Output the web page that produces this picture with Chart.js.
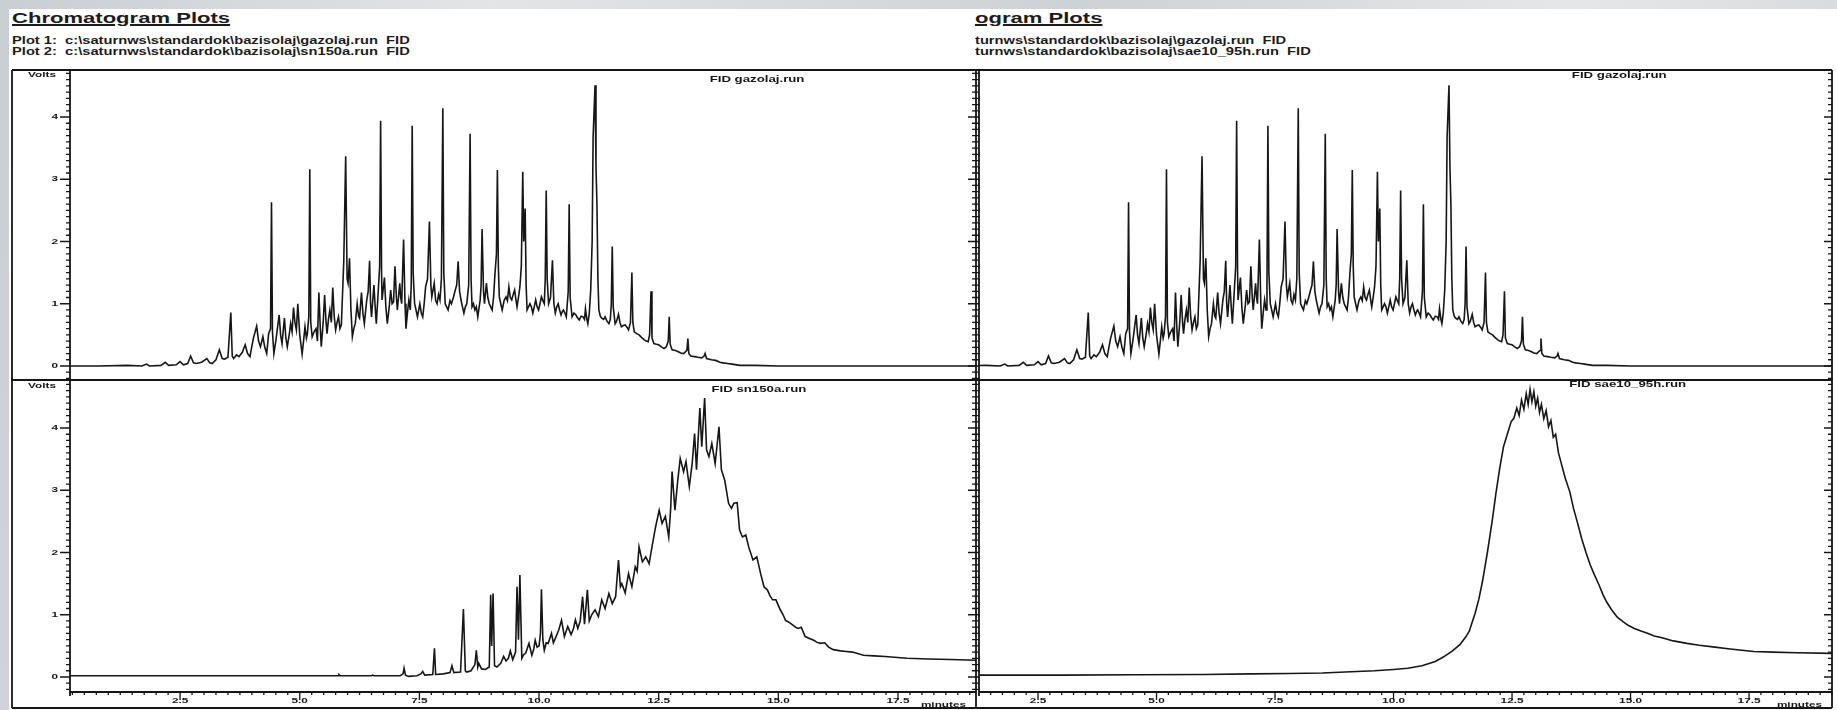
<!DOCTYPE html>
<html>
<head>
<meta charset="utf-8">
<title>Chromatogram Plots</title>
<script src="https://cdn.jsdelivr.net/npm/chart.js@4.4.1/dist/chart.umd.min.js"></script>
<style>
  html, body { margin: 0; padding: 0; }
  body {
    width: 1837px; height: 710px; position: relative; overflow: hidden;
    background: linear-gradient(100deg, #c9ced3 0%, #e3e5e7 25%, #cdd2d6 55%, #e6e7e8 80%, #d3d7da 100%);
    font-family: "Liberation Sans", Arial, sans-serif; color: #1c1c1c;
  }
  .page { position: absolute; left: 9px; top: 9px; width: 1828px; height: 701px; background: #fff; }
  .txt { position: absolute; white-space: pre; font-weight: bold; transform: scaleX(1.47); transform-origin: 0 50%; }
  .title { font-size: 15px; line-height: 15px; text-decoration: underline; text-decoration-thickness: 1.5px; text-underline-offset: 1px; }
  .path { font-size: 10px; line-height: 11px; }
  canvas { position: absolute; }
</style>
</head>
<body>
<div class="page"></div>

<div class="txt title" style="left:12px; top:10px;">Chromatogram Plots</div>
<div class="txt path" style="left:12px; top:35px;">Plot 1:  c:\saturnws\standardok\bazisolaj\gazolaj.run  FID
Plot 2:  c:\saturnws\standardok\bazisolaj\sn150a.run  FID</div>

<div class="txt title" style="left:975px; top:10px;">ogram Plots</div>
<div class="txt path" style="left:975px; top:35px;">turnws\standardok\bazisolaj\gazolaj.run  FID
turnws\standardok\bazisolaj\sae10_95h.run  FID</div>

<canvas id="leftTop" width="967" height="313" style="left:11px; top:69px;"></canvas>
<canvas id="leftBottom" width="967" height="332" style="left:11px; top:378px;"></canvas>
<canvas id="rightTop" width="862" height="313" style="left:975px; top:69px;"></canvas>
<canvas id="rightBottom" width="862" height="332" style="left:975px; top:378px;"></canvas>

<script>
// retention time (min), detector signal (V)
const gazolajTrace = [
  [0.20,0.00],[0.80,0.00],[1.40,0.01],[1.70,0.00],[1.80,0.03],[1.86,0.00],[2.10,0.01],[2.19,0.06],[2.26,0.01],[2.42,0.02],
  [2.50,0.07],[2.57,0.02],[2.66,0.04],[2.72,0.16],[2.78,0.05],[2.84,0.04],[2.95,0.06],[3.06,0.12],[3.12,0.05],[3.17,0.04],
  [3.25,0.10],[3.32,0.26],[3.38,0.12],[3.43,0.11],[3.50,0.14],[3.56,0.86],[3.59,0.16],[3.62,0.12],[3.68,0.18],[3.73,0.15],
  [3.80,0.22],[3.86,0.34],[3.91,0.20],[3.96,0.15],[4.03,0.44],[4.10,0.64],[4.14,0.40],[4.18,0.31],[4.23,0.47],[4.27,0.30],
  [4.31,0.20],[4.35,0.52],[4.39,0.60],[4.41,2.63],[4.43,0.55],[4.46,0.20],[4.50,0.40],[4.53,0.58],[4.57,0.82],[4.60,0.50],
  [4.63,0.36],[4.68,0.77],[4.71,0.45],[4.74,0.31],[4.78,0.50],[4.81,0.68],[4.84,0.55],[4.87,0.94],[4.90,0.70],[4.93,0.58],
  [4.96,1.00],[5.00,0.50],[5.05,0.19],[5.08,0.40],[5.11,0.63],[5.14,0.45],[5.16,0.52],[5.19,0.80],[5.21,3.16],[5.23,0.70],
  [5.26,0.47],[5.30,0.55],[5.34,0.60],[5.37,0.40],[5.40,1.18],[5.43,0.60],[5.45,0.31],[5.49,0.70],[5.52,1.14],[5.55,0.70],
  [5.57,0.52],[5.60,0.75],[5.63,0.90],[5.66,0.70],[5.69,1.26],[5.72,0.80],[5.75,0.58],[5.78,0.70],[5.81,0.79],[5.84,0.60],
  [5.87,0.66],[5.92,1.68],[5.96,3.37],[5.99,1.40],[6.01,1.33],[6.04,1.73],[6.07,0.90],[6.10,0.47],[6.13,0.60],[6.16,0.68],
  [6.20,1.00],[6.23,0.80],[6.25,0.77],[6.29,1.18],[6.32,0.85],[6.35,0.68],[6.40,1.06],[6.43,1.20],[6.46,1.69],[6.48,1.00],
  [6.50,0.79],[6.55,1.30],[6.58,0.90],[6.60,0.68],[6.65,1.33],[6.67,1.60],[6.69,3.94],[6.71,1.50],[6.72,1.06],[6.77,1.42],
  [6.80,0.95],[6.83,0.68],[6.87,0.95],[6.90,1.22],[6.93,1.00],[6.96,1.03],[6.99,1.60],[7.02,1.10],[7.04,0.90],[7.09,1.33],
  [7.11,1.10],[7.13,1.00],[7.17,2.03],[7.20,1.00],[7.22,0.60],[7.25,0.85],[7.28,1.06],[7.31,0.90],[7.33,1.30],[7.35,3.86],
  [7.37,1.50],[7.40,1.00],[7.43,0.90],[7.46,0.79],[7.51,1.00],[7.54,0.85],[7.57,0.79],[7.60,1.00],[7.63,1.27],[7.67,1.40],
  [7.71,2.32],[7.74,1.30],[7.76,1.11],[7.81,1.33],[7.84,1.05],[7.87,1.00],[7.90,1.15],[7.93,1.06],[7.96,1.40],[7.99,4.14],
  [8.01,1.50],[8.04,1.00],[8.07,0.95],[8.10,0.90],[8.14,1.05],[8.17,1.00],[8.21,1.10],[8.25,1.22],[8.28,1.30],[8.31,1.68],
  [8.34,1.20],[8.37,1.06],[8.40,0.95],[8.43,0.85],[8.46,0.95],[8.49,1.00],[8.53,1.30],[8.56,3.73],[8.58,1.40],[8.60,0.95],
  [8.63,1.00],[8.66,0.90],[8.69,0.95],[8.72,0.79],[8.77,1.06],[8.79,1.30],[8.81,2.20],[8.84,1.20],[8.86,1.00],[8.90,1.33],
  [8.93,1.10],[8.96,1.00],[8.99,0.95],[9.02,0.90],[9.05,1.10],[9.08,1.49],[9.11,1.80],[9.13,3.15],[9.15,1.60],[9.17,1.11],
  [9.20,1.00],[9.23,0.90],[9.27,1.05],[9.31,1.11],[9.34,1.05],[9.37,1.27],[9.40,1.10],[9.43,1.06],[9.46,1.15],[9.49,1.22],
  [9.52,1.05],[9.54,0.95],[9.57,1.10],[9.60,1.27],[9.63,1.60],[9.66,3.12],[9.68,2.00],[9.71,2.53],[9.73,1.30],[9.75,0.90],
  [9.78,0.95],[9.81,1.00],[9.84,0.95],[9.87,0.85],[9.90,0.95],[9.93,1.06],[9.96,0.95],[9.99,0.90],[10.02,1.00],[10.05,1.11],
  [10.08,1.05],[10.11,1.00],[10.13,1.40],[10.15,2.82],[10.17,1.40],[10.20,1.00],[10.24,1.10],[10.28,1.70],[10.31,1.00],[10.34,0.85],
  [10.37,0.95],[10.40,1.00],[10.43,0.90],[10.46,0.82],[10.49,0.88],[10.51,0.90],[10.54,0.85],[10.57,0.79],[10.61,1.20],[10.63,2.60],
  [10.65,1.10],[10.69,0.79],[10.73,0.85],[10.77,0.82],[10.80,0.78],[10.84,0.74],[10.88,0.80],[10.92,0.79],[10.95,0.75],[10.97,0.92],
  [11.00,0.75],[11.02,0.68],[11.05,0.85],[11.08,1.22],[11.11,2.00],[11.13,3.68],[11.17,4.51],[11.19,3.20],[11.21,2.61],[11.23,1.40],
  [11.25,0.90],[11.28,0.80],[11.31,0.77],[11.35,0.75],[11.38,0.79],[11.42,0.72],[11.46,0.68],[11.49,0.75],[11.51,1.00],[11.53,1.92],
  [11.55,0.95],[11.59,0.68],[11.62,0.72],[11.66,0.83],[11.69,0.70],[11.72,0.63],[11.76,0.65],[11.80,0.66],[11.84,0.62],[11.87,0.58],
  [11.91,0.70],[11.94,1.50],[11.96,0.70],[11.99,0.55],[12.04,0.52],[12.09,0.50],[12.14,0.46],[12.20,0.42],[12.24,0.40],[12.28,0.39],
  [12.31,0.50],[12.34,1.20],[12.36,0.45],[12.40,0.36],[12.45,0.35],[12.50,0.34],[12.55,0.31],[12.61,0.28],[12.66,0.31],[12.70,0.40],
  [12.72,0.79],[12.74,0.35],[12.78,0.26],[12.85,0.25],[12.91,0.23],[12.96,0.21],[13.02,0.20],[13.09,0.25],[13.11,0.44],[13.13,0.20],
  [13.17,0.16],[13.25,0.15],[13.32,0.14],[13.40,0.13],[13.45,0.16],[13.47,0.20],[13.50,0.12],[13.60,0.10],[13.69,0.09],[13.78,0.06],
  [13.84,0.05],[13.94,0.04],[14.03,0.03],[14.20,0.01],[14.50,0.01],[15.00,0.00],[16.00,0.00],[17.00,0.00],[18.00,0.00],[19.40,0.00]
];

const sn150aTrace = [
  [0.20,0.02],[3.00,0.02],[5.00,0.02],[5.80,0.02],[5.82,0.04],[5.85,0.02],[6.50,0.02],[6.52,0.03],[6.55,0.02],[7.10,0.02],
  [7.16,0.05],[7.18,0.14],[7.21,0.03],[7.27,0.01],[7.45,0.02],[7.53,0.05],[7.57,0.09],[7.61,0.03],[7.78,0.04],[7.815,0.46],
  [7.84,0.04],[8.00,0.05],[8.14,0.07],[8.18,0.18],[8.22,0.07],[8.36,0.08],[8.42,1.09],[8.46,0.10],[8.49,0.08],[8.58,0.10],
  [8.66,0.20],[8.69,0.43],[8.72,0.16],[8.74,0.22],[8.80,0.13],[8.88,0.12],[8.96,0.16],[8.99,1.32],[9.01,0.50],[9.04,1.34],
  [9.07,0.18],[9.12,0.16],[9.20,0.22],[9.26,0.33],[9.31,0.26],[9.36,0.30],[9.40,0.42],[9.45,0.28],[9.51,0.40],[9.54,1.45],
  [9.57,0.60],[9.60,1.64],[9.64,0.30],[9.68,0.36],[9.72,0.38],[9.79,0.54],[9.85,0.35],[9.89,0.45],[9.92,0.59],[9.96,0.48],
  [10.00,0.50],[10.03,0.70],[10.05,1.41],[10.08,0.60],[10.11,0.43],[10.15,0.55],[10.19,0.54],[10.26,0.70],[10.30,0.55],[10.34,0.62],
  [10.41,0.75],[10.47,0.91],[10.53,0.65],[10.60,0.81],[10.67,0.68],[10.72,0.78],[10.76,0.92],[10.81,0.78],[10.86,0.90],[10.91,1.29],
  [10.95,0.85],[11.01,1.40],[11.05,0.90],[11.10,1.00],[11.17,1.08],[11.24,0.97],[11.31,1.24],[11.38,1.10],[11.46,1.34],[11.53,1.18],
  [11.60,1.29],[11.66,1.88],[11.70,1.45],[11.73,1.50],[11.80,1.35],[11.87,1.66],[11.94,1.45],[12.01,1.77],[12.05,1.70],[12.09,2.09],
  [12.16,1.85],[12.23,1.93],[12.30,1.82],[12.36,2.09],[12.43,2.39],[12.51,2.68],[12.57,2.47],[12.64,2.58],[12.71,2.25],[12.75,2.70],
  [12.78,3.30],[12.84,2.68],[12.90,3.17],[12.95,3.51],[13.02,3.30],[13.07,3.46],[13.14,3.06],[13.20,3.43],[13.25,3.91],[13.29,3.33],
  [13.36,4.32],[13.40,3.70],[13.46,4.48],[13.50,3.65],[13.55,3.54],[13.61,3.75],[13.68,3.43],[13.76,4.02],[13.81,3.33],[13.88,3.16],
  [13.96,2.79],[14.02,2.71],[14.07,2.79],[14.14,2.80],[14.19,2.36],[14.25,2.25],[14.32,2.28],[14.38,2.09],[14.47,1.88],[14.55,1.93],
  [14.63,1.66],[14.70,1.45],[14.77,1.40],[14.83,1.30],[14.88,1.24],[14.95,1.24],[15.04,1.08],[15.10,1.00],[15.15,0.91],[15.22,0.88],
  [15.29,0.84],[15.36,0.80],[15.42,0.78],[15.48,0.80],[15.56,0.65],[15.65,0.62],[15.74,0.59],[15.80,0.56],[15.88,0.54],[15.97,0.55],
  [16.05,0.48],[16.15,0.44],[16.30,0.42],[16.42,0.41],[16.55,0.40],[16.78,0.35],[17.00,0.34],[17.23,0.33],[17.69,0.30],[18.14,0.29],
  [18.59,0.28],[19.14,0.27]
];

const sae10Trace = [
  [0.20,0.03],[1.30,0.03],[3.00,0.03],[4.50,0.035],[6.00,0.04],[7.00,0.05],[7.80,0.055],[8.50,0.065],[9.10,0.085],[9.60,0.10],
  [10.00,0.12],[10.30,0.14],[10.60,0.18],[10.88,0.25],[11.05,0.32],[11.23,0.41],[11.40,0.52],[11.53,0.65],[11.60,0.74],[11.65,0.86],
  [11.72,1.02],[11.80,1.25],[11.88,1.55],[11.98,2.00],[12.08,2.50],[12.16,2.95],[12.24,3.35],[12.32,3.70],[12.40,3.90],[12.48,4.10],
  [12.54,4.16],[12.60,4.32],[12.65,4.20],[12.70,4.45],[12.75,4.30],[12.80,4.55],[12.84,4.38],[12.88,4.62],[12.92,4.42],[12.96,4.58],
  [13.00,4.35],[13.04,4.48],[13.08,4.25],[13.12,4.38],[13.17,4.15],[13.22,4.28],[13.27,4.02],[13.32,4.12],[13.37,3.85],[13.42,3.90],
  [13.48,3.60],[13.55,3.40],[13.62,3.20],[13.72,2.97],[13.80,2.70],[13.88,2.48],[13.97,2.22],[14.06,2.00],[14.15,1.80],[14.25,1.62],
  [14.34,1.47],[14.42,1.32],[14.50,1.20],[14.60,1.08],[14.72,0.96],[14.84,0.89],[14.95,0.83],[15.08,0.78],[15.22,0.74],[15.37,0.70],
  [15.50,0.66],[15.62,0.64],[15.72,0.62],[15.90,0.58],[16.05,0.56],[16.19,0.54],[16.45,0.51],[16.78,0.48],[17.10,0.45],[17.60,0.41],
  [18.00,0.40],[18.50,0.39],[19.25,0.38],[19.40,0.38]
];

const voltLabels = ['0', '1', '2', '3', '4'];
const minuteLabels = ['2.5', '5.0', '7.5', '10.0', '12.5', '15.0', '17.5'];
const voltMinorStep = 0.1;
const minuteMinorStep = 0.25;

const INK = '#161616';
const WIDE = 1.47;   // the plotter font is drawn horizontally stretched
const FONT = '"Liberation Sans", Arial, sans-serif';

function wideText(ctx, text, x, y, align, size) {
  ctx.save();
  ctx.font = 'bold ' + size + 'px ' + FONT;
  ctx.textAlign = align;
  ctx.textBaseline = 'middle';
  ctx.translate(x, y);
  ctx.scale(WIDE, 1);
  ctx.fillText(text, 0, 0);
  ctx.restore();
}

// frame, tick marks and labels, drawn from the chart's own scales
const framePlugin = {
  id: 'chromFrame',
  afterDatasetsDraw(chart, args, o) {
    const { ctx, chartArea: a, scales: { x, y } } = chart;
    const H = chart.height;
    const edge = o.outer ? 1 : 0;
    ctx.save();
    ctx.strokeStyle = INK;
    ctx.fillStyle = INK;
    ctx.lineWidth = 1.8;
    ctx.beginPath();
    ctx.moveTo(a.left, a.top - 1); ctx.lineTo(a.left, o.xAxis ? a.bottom + 4 : a.bottom);
    ctx.moveTo(a.right, o.xAxis ? 0 : a.top - 1); ctx.lineTo(a.right, o.xAxis ? H - 2 : a.bottom);
    if (o.xAxis) {
      ctx.moveTo(a.left, a.bottom); ctx.lineTo(a.right, a.bottom);
      ctx.moveTo(edge, H - 2); ctx.lineTo(a.right, H - 2);
    } else {
      ctx.moveTo(edge, a.top - 1); ctx.lineTo(a.right, a.top - 1);
      ctx.moveTo(edge, a.bottom); ctx.lineTo(a.right, a.bottom);
    }
    if (o.outer) {
      ctx.moveTo(1, o.xAxis ? 0 : a.top - 1); ctx.lineTo(1, o.xAxis ? H - 2 : a.bottom);
    }
    ctx.stroke();

    // volt ticks on both sides
    ctx.lineWidth = 1.3;
    ctx.beginPath();
    const k0 = Math.ceil(y.min / voltMinorStep), k1 = Math.floor(y.max / voltMinorStep);
    for (let k = k0; k <= k1; k++) {
      const py = y.getPixelForValue(k * voltMinorStep);
      ctx.moveTo(a.left - 4, py); ctx.lineTo(a.left, py);
      ctx.moveTo(a.right - 4, py); ctx.lineTo(a.right, py);
    }
    voltLabels.forEach(lbl => {
      const py = y.getPixelForValue(Number(lbl));
      ctx.moveTo(a.left - 10, py); ctx.lineTo(a.left, py);
      ctx.moveTo(a.right - 8, py); ctx.lineTo(a.right, py);
    });
    // minute ticks along the bottom axis
    if (o.xAxis) {
      const m0 = Math.ceil(x.min / minuteMinorStep), m1 = Math.floor(x.max / minuteMinorStep);
      for (let m = m0; m <= m1; m++) {
        const px = x.getPixelForValue(m * minuteMinorStep);
        ctx.moveTo(px, a.bottom); ctx.lineTo(px, a.bottom + 3);
      }
      minuteLabels.forEach(lbl => {
        const px = x.getPixelForValue(Number(lbl));
        ctx.moveTo(px, a.bottom); ctx.lineTo(px, a.bottom + 8);
      });
    }
    ctx.stroke();

    if (o.yLabels) {
      voltLabels.forEach(lbl => wideText(ctx, lbl, a.left - 12, y.getPixelForValue(Number(lbl)), 'right', 8));
      wideText(ctx, 'Volts', a.left - 14, a.top + 4, 'right', 8);
    }
    if (o.xAxis) {
      minuteLabels.forEach(lbl => wideText(ctx, lbl, x.getPixelForValue(Number(lbl)), a.bottom + 9, 'center', 8));
      wideText(ctx, 'minutes', a.right - 10, H - 5, 'right', 8);
    }
    wideText(ctx, o.runLabel, a.left + o.labelAt * (a.right - a.left), a.top + o.labelDy, 'left', 9);
    ctx.restore();
  }
};

function drawPanel(id, trace, p) {
  const canvas = document.getElementById(id);
  return new Chart(canvas.getContext('2d'), {
    type: 'line',
    data: {
      datasets: [{
        data: trace.map(([t, v]) => ({ x: t, y: v })),
        borderColor: INK,
        borderWidth: 1.6,
        pointRadius: 0,
        tension: 0,
        fill: false
      }]
    },
    options: {
      responsive: false,
      animation: false,
      layout: { padding: p.pad },
      scales: {
        x: { type: 'linear', display: false, min: p.xMin, max: p.xMax },
        y: { type: 'linear', display: false, min: p.yMin, max: p.yMax }
      },
      plugins: {
        legend: { display: false },
        tooltip: { enabled: false },
        chromFrame: {
          outer: p.outer, xAxis: p.xAxis, yLabels: p.yLabels,
          runLabel: p.runLabel, labelAt: p.labelAt, labelDy: p.labelDy
        }
      }
    },
    plugins: [framePlugin]
  });
}

window.addEventListener('DOMContentLoaded', () => {
  drawPanel('leftTop', gazolajTrace, {
    pad: { left: 59, right: 2, top: 2, bottom: 2 },
    xMin: 0.2, xMax: 19.13, yMin: -0.225, yMax: 4.739,
    outer: true, xAxis: false, yLabels: true,
    runLabel: 'FID gazolaj.run', labelAt: 0.706, labelDy: 9
  });
  drawPanel('leftBottom', sn150aTrace, {
    pad: { left: 59, right: 2, top: 4, bottom: 18 },
    xMin: 0.2, xMax: 19.13, yMin: -0.241, yMax: 4.739,
    outer: true, xAxis: true, yLabels: true,
    runLabel: 'FID sn150a.run', labelAt: 0.708, labelDy: 8
  });
  drawPanel('rightTop', gazolajTrace, {
    pad: { left: 4, right: 5, top: 2, bottom: 2 },
    xMin: 1.255, xMax: 19.25, yMin: -0.225, yMax: 4.739,
    outer: false, xAxis: false, yLabels: false,
    runLabel: 'FID gazolaj.run', labelAt: 0.695, labelDy: 5
  });
  drawPanel('rightBottom', sae10Trace, {
    pad: { left: 4, right: 5, top: 4, bottom: 18 },
    xMin: 1.255, xMax: 19.25, yMin: -0.241, yMax: 4.739,
    outer: false, xAxis: true, yLabels: false,
    runLabel: 'FID sae10_95h.run', labelAt: 0.692, labelDy: 3
  });
});
</script>
</body>
</html>
